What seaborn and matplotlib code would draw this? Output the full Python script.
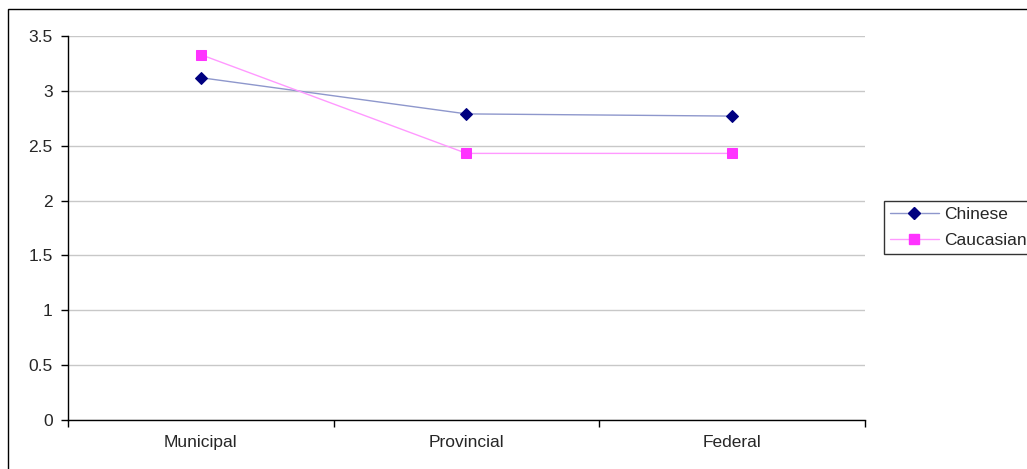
import numpy as np
import pandas as pd
import matplotlib
matplotlib.use('Agg')
import matplotlib.pyplot as plt
import seaborn as sns
from matplotlib.patches import Rectangle
from matplotlib.lines import Line2D

levels = ['Municipal', 'Provincial', 'Federal']
chinese = [3.12, 2.79, 2.77]
caucasian = [3.33, 2.43, 2.43]

df = pd.DataFrame({
    'level': levels * 2,
    'value': chinese + caucasian,
    'group': ['Chinese'] * 3 + ['Caucasian'] * 3,
})

sns.set_style('white')
plt.rcParams['font.family'] = ['Liberation Sans', 'DejaVu Sans']

fig = plt.figure(figsize=(10.27, 4.69), dpi=100)
ax = fig.add_axes([68/1027, 1 - 420/469, (865-68)/1027, (420-36)/469])

line_cols = {'Chinese': '#8e97cc', 'Caucasian': '#ff99ff'}
mark_cols = {'Chinese': '#000080', 'Caucasian': '#ff33ff'}
marks = {'Chinese': 'D', 'Caucasian': 's'}
msize = {'Chinese': 6, 'Caucasian': 7}

for g in ['Chinese', 'Caucasian']:
    sub = df[df['group'] == g]
    sns.lineplot(data=sub, x='level', y='value', ax=ax, color=line_cols[g],
                 linewidth=1.0, marker=marks[g], markersize=msize[g],
                 markerfacecolor=mark_cols[g], markeredgecolor=mark_cols[g],
                 legend=False)

ax.set_xlim(-0.5, 2.5)
ax.set_ylim(0, 3.5)
ax.set_yticks(np.arange(0, 3.51, 0.5))
ax.set_yticklabels(['0', '0.5', '1', '1.5', '2', '2.5', '3', '3.5'])
ax.yaxis.grid(True, color='#c8c8c8', linewidth=1)
ax.set_axisbelow(True)

ax.set_xticks([-0.5, 0.5, 1.5, 2.5])
ax.set_xticklabels([])
ax.set_xticks([0, 1, 2], minor=True)
ax.set_xticklabels(levels, minor=True)
ax.tick_params(axis='x', which='major', direction='out', length=5, width=1, color='black', bottom=True)
ax.tick_params(axis='x', which='minor', length=0, pad=11, labelsize=12.5)
ax.tick_params(axis='y', direction='out', length=5, width=1, color='black', left=True, labelsize=12.5, pad=6)
ax.set_xlabel('')
ax.set_ylabel('')

for s in ['top', 'right']:
    ax.spines[s].set_visible(False)
for s in ['left', 'bottom']:
    ax.spines[s].set_color('black')
    ax.spines[s].set_linewidth(1)

# outer chart frame (extends past the image on the right/bottom)
fig.patches.append(Rectangle((8/1027, -0.1), 1.2, 1 - 9/469 + 0.1, transform=fig.transFigure,
                             fill=False, edgecolor='black', linewidth=1))

handles = [Line2D([], [], color=line_cols[g], linewidth=1.0, marker=marks[g],
                  markersize=msize[g], markerfacecolor=mark_cols[g],
                  markeredgecolor=mark_cols[g]) for g in ['Chinese', 'Caucasian']]
leg = fig.legend(handles, ['Chinese', 'Caucasian'], loc='upper left',
                 bbox_to_anchor=(884/1027, 1 - 201/469), frameon=True, fancybox=False,
                 fontsize=12.5, borderpad=0.35, handlelength=2.8, handletextpad=0.3,
                 labelspacing=0.6, borderaxespad=0)
leg.get_frame().set_edgecolor('black')
leg.get_frame().set_linewidth(1)

fig.savefig('out.png', dpi=100)
